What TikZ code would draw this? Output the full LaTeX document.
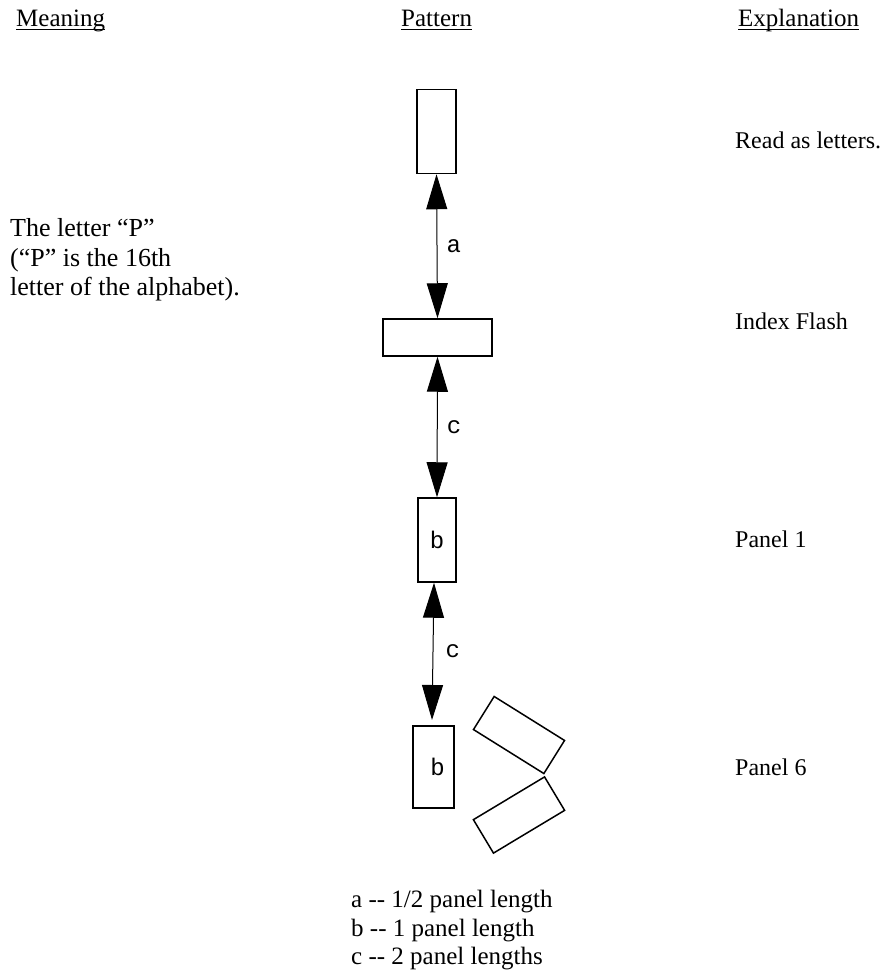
\documentclass[tikz,border=0pt]{standalone}
\usepackage{fontspec}
\setmainfont{Liberation Serif}
\newfontfamily\monof{Liberation Mono}
\usetikzlibrary{arrows.meta}
\tikzset{
  panel/.style={draw, line width=1.5pt, inner sep=0pt},
  txt/.style={anchor=base west, inner sep=0pt, font=\fontsize{25}{29}\selectfont},
  txtl/.style={txt, font=\fontsize{26}{29}\selectfont},
  txtr/.style={txt, font=\fontsize{24}{29}\selectfont},
  lbl/.style={inner sep=0pt, font=\monof\fontsize{24}{26}\selectfont},
  conn/.style={line width=1pt, {Triangle[length=35pt,width=21pt]}-{Triangle[length=35pt,width=21pt]}},
  uline/.style={line width=1.5pt},
}
\begin{document}
\begin{tikzpicture}[x=1pt,y=-1pt]
\useasboundingbox (0,0) rectangle (888,973);
% headers
\node[txt] (h1) at (16,27) {Meaning};
\node[txt] (h2) at (401,27) {Pattern};
\node[txt] (h3) at (738,27) {Explanation};
\draw[uline] ([yshift=-2.5pt]h1.base west) -- ([yshift=-2.5pt]h1.base east);
\draw[uline] ([yshift=-2.5pt]h2.base west) -- ([yshift=-2.5pt]h2.base east);
\draw[uline] ([yshift=-2.5pt]h3.base west) -- ([yshift=-2.5pt]h3.base east);
% panels
\node[panel, minimum width=39pt, minimum height=84pt] (top) at (436.5,131.5) {};
\node[panel, minimum width=109pt, minimum height=37pt] (idx) at (437.5,337.5) {};
\node[panel, minimum width=38pt, minimum height=84pt] (p1) at (437,540) {};
\node[lbl] (b1) at (p1.center) {b};
\node[panel, minimum width=41pt, minimum height=82pt] (p6) at (433.5,767) {};
\node[lbl] (b2) at ([xshift=4pt]p6.center) {b};
\node[panel, minimum width=83pt, minimum height=39pt, rotate=-32] (r1) at (519,735) {};
\node[panel, minimum width=83pt, minimum height=39pt, rotate=31] (r2) at (519,815) {};
% connectors
\draw[conn] (top.south) -- node[lbl, right=9pt] (la) {a} (idx.north);
\draw[conn] (idx.south) -- node[lbl, right=9pt] (lc1) {c} (p1.north);
\coordinate (c2a) at ([xshift=-3pt]p1.south);
\coordinate (c2b) at (432,720);
\draw[conn] (c2a) -- node[lbl, right=12pt] (lc2) {c} (c2b);
% left text
\node[txtl] (m1) at (10,237) {The letter “P”};
\node[txtl] (m2) at (10,266) {(“P” is the 16th};
\node[txtl] (m3) at (10,295) {letter of the alphabet).};
% right text
\node[txtr] (e1) at (735,149) {Read as letters.};
\node[txtr] (e2) at (735,329) {Index Flash};
\node[txtr] (e3) at (735,547) {Panel 1};
\node[txtr] (e4) at (735,775) {Panel 6};
% legend
\node[txt] (k1) at (351,907) {a -{}- 1/2 panel length};
\node[txt] (k2) at (351,936) {b -{}- 1 panel length};
\node[txt] (k3) at (351,964) {c -{}- 2 panel lengths};
\end{tikzpicture}
\end{document}
